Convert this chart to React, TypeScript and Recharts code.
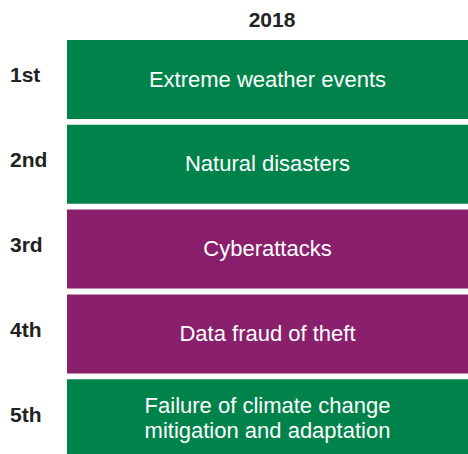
import { BarChart, Bar, XAxis, YAxis, Cell, LabelList } from 'recharts';

const ranks = ['1st', '2nd', '3rd', '4th', '5th'];
const risks = [
  'Extreme weather events',
  'Natural disasters',
  'Cyberattacks',
  'Data fraud of theft',
  'Failure of climate change\nmitigation and adaptation',
];
const riskTypes = ['environmental', 'environmental', 'technological', 'technological', 'environmental'];
const values = [1, 1, 1, 1, 1];
const year = '2018';

const COLORS: Record<string, string> = {
  environmental: '#00834B',
  technological: '#8A206B',
};

const FONT = '"Liberation Sans", Arial, Helvetica, sans-serif';

const data = ranks.map((rank, i) => ({
  rank,
  risk: risks[i],
  type: riskTypes[i],
  value: values[i],
}));

const RankTick = (props: any) => {
  const { y, payload } = props;
  return (
    <text x={10} y={y + 3} fontFamily={FONT} fontSize={21} fontWeight="bold" fill="#222" textAnchor="start">
      {payload.value}
    </text>
  );
};

const RiskLabel = (props: any) => {
  const { x, y, width, height, value } = props;
  const lines = String(value).split('\n');
  const lineHeight = 25;
  const cx = x + width / 2;
  const cy = y + height / 2;
  const firstBaseline = cy - ((lines.length - 1) * lineHeight) / 2 + 7;
  return (
    <text x={cx} y={firstBaseline} fontFamily={FONT} fontSize={22} fill="#fff" textAnchor="middle">
      {lines.map((line, i) => (
        <tspan key={i} x={cx} y={firstBaseline + i * lineHeight}>
          {line}
        </tspan>
      ))}
    </text>
  );
};

export default function App() {
  return (
    <div style={{ position: 'absolute', left: 0, top: 0, width: 468, height: 454, overflow: 'hidden', background: '#fff' }}>
      <BarChart
        width={468}
        height={461}
        data={data}
        layout="vertical"
        margin={{ top: 37, right: 0, bottom: 0, left: 0 }}
        barSize={79}
      >
        <XAxis type="number" domain={[0, 1]} hide />
        <YAxis
          type="category"
          dataKey="rank"
          width={67}
          axisLine={false}
          tickLine={false}
          tick={<RankTick />}
        />
        <text x={272} y={27} fontFamily={FONT} fontSize={21} fontWeight="bold" fill="#222" textAnchor="middle">
          {year}
        </text>
        <Bar dataKey="value" isAnimationActive={false}>
          {data.map((d, i) => (
            <Cell key={`cell-${i}`} fill={COLORS[d.type]} />
          ))}
          <LabelList dataKey="risk" content={<RiskLabel />} />
        </Bar>
      </BarChart>
    </div>
  );
}
